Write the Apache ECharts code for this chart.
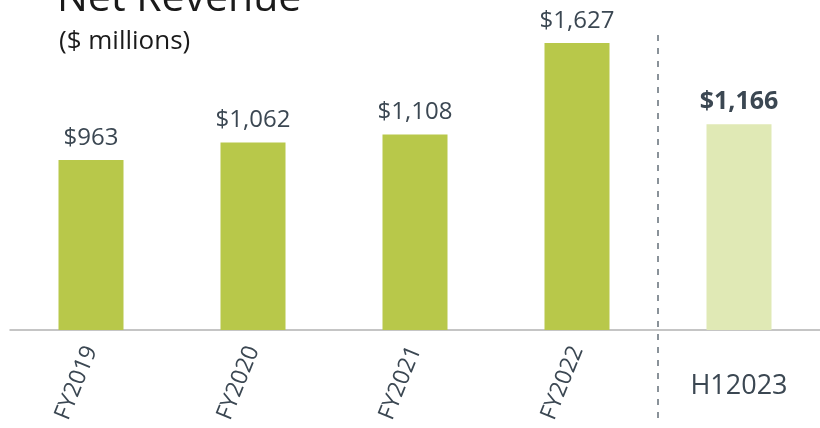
<!DOCTYPE html>
<html><head><meta charset="utf-8">
<script src="https://cdn.jsdelivr.net/npm/echarts@6/dist/echarts.min.js"></script>
<style>html,body{margin:0;padding:0;background:#fff}#c{width:820px;height:428px}</style>
</head><body><div id="c"></div>
<script>
const categories = ['FY2019','FY2020','FY2021','FY2022','H12023'];
const revenue = [963, 1062, 1108, 1627, 1166];
const highlight = [false, false, false, false, true];

const FONT = '"Open Sans","Noto Sans",sans-serif';
const chart = echarts.init(document.getElementById('c'));
const data = revenue.map((v,i)=>({
  value: v,
  itemStyle: {color: highlight[i] ? '#e0e9b5' : '#b8c84a'},
  label: highlight[i] ? {fontWeight: 'bold', fontSize: 25} : {}
}));
chart.setOption({
  animation: false,
  title: [
    {text: 'Net Revenue', left: 52, top: -26, textStyle: {fontFamily: FONT, fontSize: 41, fontWeight: 'normal', color: '#1a1a1a'}},
    {text: '($ millions)', left: 54, top: 24, textStyle: {fontFamily: FONT, fontSize: 26, fontWeight: 'normal', color: '#1a1a1a'}}
  ],
  grid: {left: 10, right: 0, top: 0, bottom: 98},
  xAxis: [{
    type: 'category', data: categories,
    axisLine: {lineStyle: {color: '#b3b3b3', width: 1.5}},
    axisTick: {length: 6, lineStyle: {color: '#b3b3b3', width: 1.5}},
    axisLabel: {rotate: 68, margin: 17, fontFamily: FONT, fontSize: 23, color: '#3b4752',
      formatter: v => v.startsWith('FY') ? v : ''}
  },{
    type: 'category', data: categories, position: 'bottom',
    axisLine: {show: false}, axisTick: {show: false},
    axisLabel: {rotate: 0, margin: 43, fontFamily: FONT, fontSize: 27, color: '#3b4752',
      formatter: v => v.startsWith('FY') ? '' : v}
  }],
  yAxis: {type: 'value', min: 0, max: 1870, show: false, splitLine: {show: false}},
  series: [{
    type: 'bar', data: data, barWidth: 65,
    label: {show: true, position: 'top', distance: 10, fontFamily: FONT, fontSize: 24, color: '#3b4752',
      formatter: p => '$' + p.value.toLocaleString('en-US')}
  }]
});
const x1 = chart.convertToPixel({xAxisIndex: 0}, categories[3]);
const x2 = chart.convertToPixel({xAxisIndex: 0}, categories[4]);
const xs = (x1 + x2) / 2;
chart.setOption({graphic: [{type: 'line', shape: {x1: xs, y1: 35, x2: xs, y2: 420},
  style: {stroke: '#8a9299', lineWidth: 2, lineDash: [6, 7]}, z: 10}]});
</script></body></html>
